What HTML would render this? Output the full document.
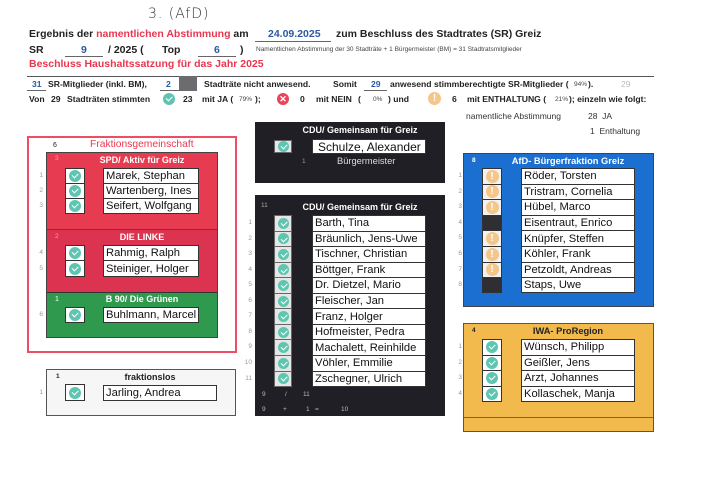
<!DOCTYPE html>
<html><head><meta charset="utf-8">
<style>
*{margin:0;padding:0;box-sizing:border-box}
body{width:727px;height:480px;background:#fff;position:relative;overflow:hidden;font-family:"Liberation Sans",Arial,sans-serif;color:#222}
.a{position:absolute;white-space:nowrap;line-height:1}
.b{font-weight:bold}
.r{color:#e8374f}
.bl{color:#2a5aa2}
.s{font-size:6.5px;font-weight:normal;color:#444}
.ul{position:absolute;height:1px;background:#666}
.nm{position:absolute;background:#fff;border:1px solid #333;font-size:11.2px;color:#111;padding-left:2px;display:flex;align-items:center;white-space:nowrap}
.cb{position:absolute;background:#fff;border:1px solid #333;display:flex;align-items:center;justify-content:center}
.ck{position:relative;display:block;width:12px;height:12px;border-radius:50%;background:#5ec5b1}
.ck::after{content:"";position:absolute;left:3.3px;top:3.2px;width:5px;height:2.6px;border-left:1.7px solid #fff;border-bottom:1.7px solid #fff;transform:rotate(-45deg)}
.ex{position:relative;display:block;width:13px;height:13px;border-radius:50%;background:#f5c68a;color:#fff;font-weight:bold;font-size:10px;line-height:13px;text-align:center}
.xx{position:relative;display:block;width:12px;height:12px;border-radius:50%;background:#e8455a;color:#fff;font-weight:bold;font-size:9px;line-height:12px;text-align:center}
.n{position:absolute;font-size:6.5px;color:#999;line-height:1;width:12px;text-align:right}
.t{position:absolute;font-weight:bold;font-size:9px;line-height:1;text-align:center;white-space:nowrap}
</style></head><body>

<!-- handwritten -->
<div class="a" style="left:148px;top:7px;font-size:14px;color:#333;font-family:'DejaVu Sans',sans-serif;font-weight:200;letter-spacing:1px">3. (AfD)</div>

<!-- line 1 -->
<div class="a b" style="left:29px;top:29px;font-size:10.5px">Ergebnis der <span class="r">namentlichen Abstimmung</span> am</div>
<div class="ul" style="left:255px;top:41px;width:76px"></div>
<div class="a b bl" style="left:268px;top:29px;font-size:10.5px">24.09.2025</div>
<div class="a b" style="left:336px;top:29px;font-size:10.5px">zum Beschluss des Stadtrates (SR) Greiz</div>

<!-- line 2 -->
<div class="a b" style="left:29px;top:45px;font-size:10.5px">SR</div>
<div class="ul" style="left:65px;top:56px;width:38px"></div>
<div class="a b bl" style="left:81px;top:45px;font-size:10.5px">9</div>
<div class="a b" style="left:108px;top:45px;font-size:10.5px">/ 2025 (</div>
<div class="a b" style="left:162px;top:45px;font-size:10.5px">Top</div>
<div class="ul" style="left:198px;top:56px;width:38px"></div>
<div class="a b bl" style="left:214px;top:45px;font-size:10.5px">6</div>
<div class="a b" style="left:240px;top:45px;font-size:10.5px">)</div>
<div class="a s" style="left:256px;top:47px">Namentlichen Abstimmung der 30 Stadträte + 1 Bürgermeister (BM) = 31 Stadtratsmitglieder</div>

<!-- line 3 -->
<div class="a b r" style="left:29px;top:59px;font-size:10.5px">Beschluss Haushaltssatzung für das Jahr 2025</div>

<div style="position:absolute;left:27px;top:76px;width:627px;height:1px;background:#555"></div>

<!-- row A -->
<div class="ul" style="left:27px;top:90px;width:19px"></div>
<div class="a b bl" style="left:32px;top:80px;font-size:8.6px">31</div>
<div class="a b" style="left:48px;top:80px;font-size:8.6px">SR-Mitglieder (inkl. BM),</div>
<div class="ul" style="left:160px;top:90px;width:19px"></div>
<div class="a b bl" style="left:166px;top:80px;font-size:8.6px">2</div>
<div style="position:absolute;left:179px;top:76px;width:18px;height:15px;background:#6b6b70"></div>
<div class="a b" style="left:204px;top:80px;font-size:8.6px">Stadträte nicht anwesend.</div>
<div class="a b" style="left:333px;top:80px;font-size:8.6px">Somit</div>
<div class="ul" style="left:364px;top:90px;width:23px"></div>
<div class="a b bl" style="left:371px;top:80px;font-size:8.6px">29</div>
<div class="a b" style="left:390px;top:80px;font-size:8.6px">anwesend stimmberechtigte SR-Mitglieder (</div>
<div class="a s" style="left:574px;top:82px">94%</div>
<div class="a b" style="left:588px;top:80px;font-size:8.6px">).</div>
<div class="a" style="left:621px;top:80px;font-size:8.6px;color:#bbb">29</div>

<!-- row B -->
<div class="a b" style="left:29px;top:95px;font-size:8.6px">Von</div>
<div class="a b" style="left:51px;top:95px;font-size:8.6px">29</div>
<div class="a b" style="left:67px;top:95px;font-size:8.6px">Stadträten stimmten</div>
<span class="ck" style="position:absolute;left:163px;top:93px"></span>
<div class="a b" style="left:183px;top:95px;font-size:8.6px">23</div>
<div class="a b" style="left:202px;top:95px;font-size:8.6px">mit JA (</div>
<div class="a s" style="left:239px;top:97px">79%</div>
<div class="a b" style="left:255px;top:95px;font-size:8.6px">);</div>
<span class="xx" style="position:absolute;left:277px;top:93px">✕</span>
<div class="a b" style="left:300px;top:95px;font-size:8.6px">0</div>
<div class="a b" style="left:316px;top:95px;font-size:8.6px">mit NEIN</div>
<div class="a b" style="left:358px;top:95px;font-size:8.6px">(</div>
<div class="a s" style="left:373px;top:97px">0%</div>
<div class="a b" style="left:388px;top:95px;font-size:8.6px">) und</div>
<span class="ex" style="position:absolute;left:428px;top:92px">!</span>
<div class="a b" style="left:452px;top:95px;font-size:8.6px">6</div>
<div class="a b" style="left:467px;top:95px;font-size:8.6px">mit ENTHALTUNG (</div>
<div class="a s" style="left:555px;top:97px">21%</div>
<div class="a b" style="left:569px;top:95px;font-size:8.6px">); einzeln wie folgt:</div>

<div class="a" style="left:466px;top:112px;font-size:8.5px;color:#333">namentliche Abstimmung</div>
<div class="a" style="left:588px;top:112px;font-size:8.5px;color:#333">28&nbsp; JA</div>
<div class="a" style="left:590px;top:127px;font-size:8.5px;color:#333">1&nbsp; Enthaltung</div>

<!-- Fraktionsgemeinschaft -->
<div style="position:absolute;left:27px;top:136px;width:210px;height:217px;border:2px solid #ef4d63"></div>
<div class="a" style="left:53px;top:142px;font-size:7px;color:#222">6</div>
<div class="a r" style="left:90px;top:140px;font-size:10.3px;color:#ea3a52">Fraktionsgemeinschaft</div>

<div style="position:absolute;left:46px;top:152px;width:172px;height:186px;border:1px solid #444;background:#e63b50"></div>
<div style="position:absolute;left:47px;top:229px;width:170px;height:63px;background:#db3350;border-top:1px solid #8a2a36"></div>
<div style="position:absolute;left:47px;top:292px;width:170px;height:45px;background:#2f9a4d;border-top:1px solid #333"></div>

<div class="a" style="left:55px;top:156px;font-size:6.5px;color:#f5a0a8">3</div>
<div class="t" style="left:96px;top:156px;width:92px;color:#fff">SPD/ Aktiv für Greiz</div>
<div class="a" style="left:55px;top:234px;font-size:6.5px;color:#f5a0a8">2</div>
<div class="t" style="left:96px;top:233px;width:92px;color:#fff">DIE LINKE</div>
<div class="a" style="left:55px;top:296px;font-size:7px;color:#fff">1</div>
<div class="t" style="left:96px;top:295px;width:92px;color:#fff">B 90/ Die Grünen</div>

<div class="cb" style="left:65px;top:168px;width:20px;height:16px"><span class="ck"></span></div>
<div class="cb" style="left:65px;top:183px;width:20px;height:16px"><span class="ck"></span></div>
<div class="cb" style="left:65px;top:198px;width:20px;height:16px"><span class="ck"></span></div>
<div class="nm" style="left:103px;top:168px;width:96px;height:16px">Marek, Stephan</div>
<div class="nm" style="left:103px;top:183px;width:96px;height:16px">Wartenberg, Ines</div>
<div class="nm" style="left:103px;top:198px;width:96px;height:16px">Seifert, Wolfgang</div>
<div class="n" style="left:31px;top:173px">1</div>
<div class="n" style="left:31px;top:188px">2</div>
<div class="n" style="left:31px;top:203px">3</div>

<div class="cb" style="left:65px;top:245px;width:20px;height:16px"><span class="ck"></span></div>
<div class="cb" style="left:65px;top:260px;width:20px;height:17px"><span class="ck"></span></div>
<div class="nm" style="left:103px;top:245px;width:96px;height:16px">Rahmig, Ralph</div>
<div class="nm" style="left:103px;top:260px;width:96px;height:17px">Steiniger, Holger</div>
<div class="n" style="left:31px;top:250px">4</div>
<div class="n" style="left:31px;top:266px">5</div>

<div class="cb" style="left:65px;top:307px;width:20px;height:16px"><span class="ck"></span></div>
<div class="nm" style="left:103px;top:307px;width:96px;height:16px">Buhlmann, Marcel</div>
<div class="n" style="left:31px;top:312px">6</div>

<!-- fraktionslos -->
<div style="position:absolute;left:46px;top:369px;width:190px;height:47px;background:#f6f6f6;border:1px solid #555"></div>
<div class="a b" style="left:56px;top:374px;font-size:6.5px">1</div>
<div class="t" style="left:110px;top:373px;width:80px;color:#222">fraktionslos</div>
<div class="cb" style="left:65px;top:384px;width:20px;height:17px"><span class="ck"></span></div>
<div class="nm" style="left:103px;top:385px;width:114px;height:16px">Jarling, Andrea</div>
<div class="n" style="left:31px;top:390px">1</div>

<!-- CDU top -->
<div style="position:absolute;left:255px;top:122px;width:190px;height:61px;background:#1f1f25"></div>
<div class="t" style="left:300px;top:126px;width:120px;color:#fff">CDU/ Gemeinsam für Greiz</div>
<div class="cb" style="left:274px;top:140px;width:18px;height:13px;background:#e6e6e6;border-color:#666"><span class="ck" style="width:11px;height:11px"></span></div>
<div class="nm" style="left:312px;top:139px;width:114px;height:15px;font-size:12px;padding-left:5px">Schulze, Alexander</div>
<div class="a" style="left:302px;top:159px;font-size:6.5px;color:#999">1</div>
<div class="a" style="left:337px;top:157px;font-size:9.3px;color:#ddd">Bürgermeister</div>

<!-- CDU main -->
<div style="position:absolute;left:255px;top:195px;width:190px;height:221px;background:#1f1f25"></div>
<div class="t" style="left:300px;top:203px;width:120px;color:#fff">CDU/ Gemeinsam für Greiz</div>
<div class="a" style="left:261px;top:203px;font-size:6.5px;color:#aaa">11</div>

<div class="cb" style="left:274px;top:215px;width:18px;height:16.5px;background:#e6e6e6;border-color:#666"><span class="ck" style="width:11px;height:11px"></span></div>
<div class="cb" style="left:274px;top:230.6px;width:18px;height:16.5px;background:#e6e6e6;border-color:#666"><span class="ck" style="width:11px;height:11px"></span></div>
<div class="cb" style="left:274px;top:246.1px;width:18px;height:16.5px;background:#e6e6e6;border-color:#666"><span class="ck" style="width:11px;height:11px"></span></div>
<div class="cb" style="left:274px;top:261.7px;width:18px;height:16.5px;background:#e6e6e6;border-color:#666"><span class="ck" style="width:11px;height:11px"></span></div>
<div class="cb" style="left:274px;top:277.2px;width:18px;height:16.5px;background:#e6e6e6;border-color:#666"><span class="ck" style="width:11px;height:11px"></span></div>
<div class="cb" style="left:274px;top:292.8px;width:18px;height:16.5px;background:#e6e6e6;border-color:#666"><span class="ck" style="width:11px;height:11px"></span></div>
<div class="cb" style="left:274px;top:308.3px;width:18px;height:16.5px;background:#e6e6e6;border-color:#666"><span class="ck" style="width:11px;height:11px"></span></div>
<div class="cb" style="left:274px;top:323.9px;width:18px;height:16.5px;background:#e6e6e6;border-color:#666"><span class="ck" style="width:11px;height:11px"></span></div>
<div class="cb" style="left:274px;top:339.4px;width:18px;height:16.5px;background:#e6e6e6;border-color:#666"><span class="ck" style="width:11px;height:11px"></span></div>
<div class="cb" style="left:274px;top:355px;width:18px;height:16.5px;background:#e6e6e6;border-color:#666"><span class="ck" style="width:11px;height:11px"></span></div>
<div class="cb" style="left:274px;top:370.5px;width:18px;height:16px;background:#e6e6e6;border-color:#666"><span class="ck" style="width:11px;height:11px"></span></div>

<div class="nm" style="left:312px;top:215px;width:114px;height:16.5px">Barth, Tina</div>
<div class="nm" style="left:312px;top:230.6px;width:114px;height:16.5px">Bräunlich, Jens-Uwe</div>
<div class="nm" style="left:312px;top:246.1px;width:114px;height:16.5px">Tischner, Christian</div>
<div class="nm" style="left:312px;top:261.7px;width:114px;height:16.5px">Böttger, Frank</div>
<div class="nm" style="left:312px;top:277.2px;width:114px;height:16.5px">Dr. Dietzel, Mario</div>
<div class="nm" style="left:312px;top:292.8px;width:114px;height:16.5px">Fleischer, Jan</div>
<div class="nm" style="left:312px;top:308.3px;width:114px;height:16.5px">Franz, Holger</div>
<div class="nm" style="left:312px;top:323.9px;width:114px;height:16.5px">Hofmeister, Pedra</div>
<div class="nm" style="left:312px;top:339.4px;width:114px;height:16.5px">Machalett, Reinhilde</div>
<div class="nm" style="left:312px;top:355px;width:114px;height:16.5px">Vöhler, Emmilie</div>
<div class="nm" style="left:312px;top:370.5px;width:114px;height:16px">Zschegner, Ulrich</div>

<div class="n" style="left:240px;top:220px">1</div>
<div class="n" style="left:240px;top:235.6px">2</div>
<div class="n" style="left:240px;top:251.1px">3</div>
<div class="n" style="left:240px;top:266.7px">4</div>
<div class="n" style="left:240px;top:282.2px">5</div>
<div class="n" style="left:240px;top:297.8px">6</div>
<div class="n" style="left:240px;top:313.3px">7</div>
<div class="n" style="left:240px;top:328.9px">8</div>
<div class="n" style="left:240px;top:344.4px">9</div>
<div class="n" style="left:240px;top:360px">10</div>
<div class="n" style="left:240px;top:375.5px">11</div>

<div class="a" style="left:262px;top:392px;font-size:6.5px;color:#bbb">9</div>
<div class="a" style="left:285px;top:392px;font-size:6.5px;color:#bbb">/</div>
<div class="a" style="left:303px;top:392px;font-size:6.5px;color:#bbb">11</div>
<div class="a" style="left:262px;top:407px;font-size:6.5px;color:#bbb">9</div>
<div class="a" style="left:283px;top:407px;font-size:6.5px;color:#bbb">+</div>
<div class="a" style="left:306px;top:407px;font-size:6.5px;color:#bbb">1</div>
<div class="a" style="left:315px;top:407px;font-size:6.5px;color:#bbb">=</div>
<div class="a" style="left:341px;top:407px;font-size:6.5px;color:#bbb">10</div>

<!-- AfD -->
<div style="position:absolute;left:463px;top:153px;width:191px;height:154px;background:#1b6fd0;border:1px solid #444"></div>
<div class="a b" style="left:472px;top:158px;font-size:6.5px;color:#fff">8</div>
<div class="t" style="left:508px;top:157px;width:120px;color:#fff;font-size:9.3px">AfD- Bürgerfraktion Greiz</div>

<div class="cb" style="left:482px;top:168px;width:20px;height:16.6px;background:#f2f2f2"><span class="ex">!</span></div>
<div class="cb" style="left:482px;top:183.6px;width:20px;height:16.6px;background:#f2f2f2"><span class="ex">!</span></div>
<div class="cb" style="left:482px;top:199.2px;width:20px;height:16.6px;background:#f2f2f2"><span class="ex">!</span></div>
<div class="cb" style="left:482px;top:214.8px;width:20px;height:16.6px;background:#2e2e33"></div>
<div class="cb" style="left:482px;top:230.4px;width:20px;height:16.6px;background:#f2f2f2"><span class="ex">!</span></div>
<div class="cb" style="left:482px;top:246px;width:20px;height:16.6px;background:#f2f2f2"><span class="ex">!</span></div>
<div class="cb" style="left:482px;top:261.6px;width:20px;height:16.6px;background:#f2f2f2"><span class="ex">!</span></div>
<div class="cb" style="left:482px;top:277.2px;width:20px;height:16px;background:#2e2e33"></div>

<div class="nm" style="left:521px;top:168px;width:114px;height:16.6px">Röder, Torsten</div>
<div class="nm" style="left:521px;top:183.6px;width:114px;height:16.6px">Tristram, Cornelia</div>
<div class="nm" style="left:521px;top:199.2px;width:114px;height:16.6px">Hübel, Marco</div>
<div class="nm" style="left:521px;top:214.8px;width:114px;height:16.6px">Eisentraut, Enrico</div>
<div class="nm" style="left:521px;top:230.4px;width:114px;height:16.6px">Knüpfer, Steffen</div>
<div class="nm" style="left:521px;top:246px;width:114px;height:16.6px">Köhler, Frank</div>
<div class="nm" style="left:521px;top:261.6px;width:114px;height:16.6px">Petzoldt, Andreas</div>
<div class="nm" style="left:521px;top:277.2px;width:114px;height:16px">Staps, Uwe</div>

<div class="n" style="left:450px;top:173px">1</div>
<div class="n" style="left:450px;top:188.6px">2</div>
<div class="n" style="left:450px;top:204.2px">3</div>
<div class="n" style="left:450px;top:219.8px">4</div>
<div class="n" style="left:450px;top:235.4px">5</div>
<div class="n" style="left:450px;top:251px">6</div>
<div class="n" style="left:450px;top:266.6px">7</div>
<div class="n" style="left:450px;top:282.2px">8</div>

<!-- IWA -->
<div style="position:absolute;left:463px;top:323px;width:191px;height:109px;background:#f2b94c;border:1px solid #555"></div>
<div style="position:absolute;left:464px;top:417px;width:189px;height:1px;background:#666"></div>
<div class="a b" style="left:472px;top:328px;font-size:6.5px;color:#222">4</div>
<div class="t" style="left:508px;top:327px;width:120px;color:#222;font-size:9.3px">IWA- ProRegion</div>

<div class="cb" style="left:482px;top:339px;width:20px;height:16.5px"><span class="ck"></span></div>
<div class="cb" style="left:482px;top:354.5px;width:20px;height:16.5px"><span class="ck"></span></div>
<div class="cb" style="left:482px;top:370px;width:20px;height:16.5px"><span class="ck"></span></div>
<div class="cb" style="left:482px;top:385.5px;width:20px;height:16px"><span class="ck"></span></div>

<div class="nm" style="left:521px;top:339px;width:114px;height:16.5px">Wünsch, Philipp</div>
<div class="nm" style="left:521px;top:354.5px;width:114px;height:16.5px">Geißler, Jens</div>
<div class="nm" style="left:521px;top:370px;width:114px;height:16.5px">Arzt, Johannes</div>
<div class="nm" style="left:521px;top:385.5px;width:114px;height:16px">Kollaschek, Manja</div>

<div class="n" style="left:450px;top:344px">1</div>
<div class="n" style="left:450px;top:359.5px">2</div>
<div class="n" style="left:450px;top:375px">3</div>
<div class="n" style="left:450px;top:390.5px">4</div>

</body></html>
